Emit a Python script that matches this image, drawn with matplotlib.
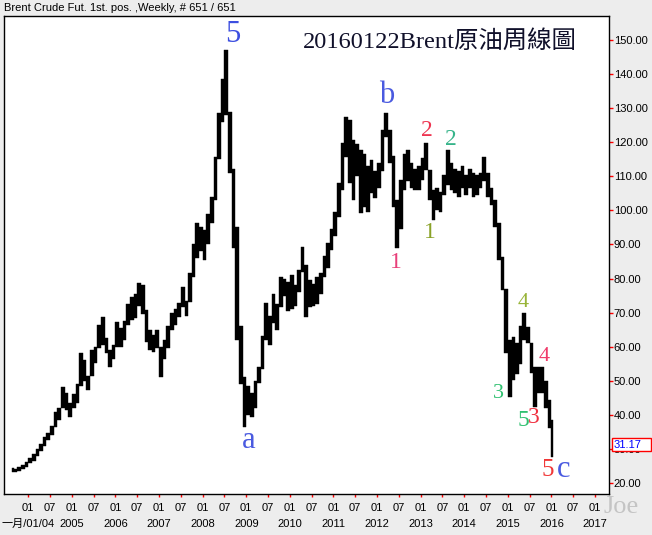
import numpy as np
import matplotlib
matplotlib.use("Agg")
import matplotlib.pyplot as plt
import matplotlib.transforms as mtransforms
from matplotlib.patches import Rectangle

# -------------------------------------------------------------------
# Data: monthly low / high
# first month = 2003-08, last month = 2016-01
# -------------------------------------------------------------------
start_year, start_month = 2003, 8

lows = [
    23.3, 23.2, 23.5, 24.2, 24.8,                                        # 2003
    25.8, 26.6, 28.0, 29.5, 31.0, 32.5, 34.0, 36.5, 38.5, 42.0, 41.5, 39.4,  # 2004
    42.0, 43.5, 48.5, 50.0, 47.3, 51.5, 55.2, 59.5, 60.5, 58.1, 54.0, 56.5,  # 2005
    60.0, 60.0, 62.0, 66.5, 67.8, 68.5, 72.0, 69.5, 61.5, 59.0, 58.5, 59.5,  # 2006
    51.1, 56.5, 59.5, 65.0, 66.5, 68.7, 71.6, 69.0, 73.0, 80.5, 86.0, 88.0,  # 2007
    85.4, 90.0, 96.3, 103.0, 115.0, 126.0, 128.0, 111.0, 89.0, 62.0, 49.0, 36.5,  # 2008
    40.0, 39.4, 42.0, 49.3, 53.5, 62.0, 60.5, 67.0, 65.0, 71.6, 75.0, 70.5,  # 2009
    71.0, 72.0, 76.0, 82.0, 68.7, 71.6, 72.0, 72.5, 75.5, 80.4, 83.0, 88.5,  # 2010
    92.5, 98.0, 106.0, 115.6, 108.0, 103.0, 110.0, 99.2, 101.0, 99.5, 105.0, 103.5,  # 2011
    106.5, 111.5, 121.5, 113.9, 101.0, 89.0, 94.5, 106.0, 108.5, 106.5, 106.0, 106.0,  # 2012
    109.0, 111.8, 103.0, 97.2, 100.0, 99.5, 104.5, 107.5, 106.0, 105.0, 104.0, 106.5,  # 2013
    104.5, 106.5, 104.0, 104.5, 106.5, 108.5, 104.0, 101.5, 95.0, 85.4, 76.6, 58.0,  # 2014
    45.2, 50.2, 52.0, 55.0, 62.0, 61.0, 52.3, 42.3, 46.5, 46.4, 42.0, 36.0,  # 2015
    27.6,                                                                # 2016
]
highs = [
    24.3, 24.2, 24.6, 25.3, 26.2,
    27.3, 28.4, 30.0, 31.5, 33.6, 34.8, 36.8, 40.8, 42.0, 48.3, 46.5, 43.5,
    46.0, 49.0, 58.1, 56.0, 51.5, 59.0, 59.9, 66.5, 68.7, 62.5, 59.0, 60.5,
    67.2, 65.5, 67.5, 72.5, 74.5, 75.5, 78.7, 78.0, 70.8, 64.9, 63.5, 65.0,
    60.0, 62.0, 66.0, 70.0, 71.0, 72.8, 77.5, 73.5, 81.6, 90.0, 96.3, 95.0,
    94.2, 99.0, 104.0, 115.7, 128.6, 138.5, 147.0, 129.0, 112.0, 95.0, 66.0, 51.0,
    48.5, 46.5, 50.0, 54.0, 63.0, 72.8, 69.0, 75.5, 72.5, 80.4, 80.0, 79.0,
    81.0, 78.0, 82.5, 89.3, 84.0, 79.5, 78.5, 80.5, 81.5, 86.5, 90.4, 94.5,
    99.5, 108.0, 119.8, 127.4, 126.5, 120.6, 119.5, 117.7, 116.5, 113.0, 114.8, 111.5,
    114.0, 123.5, 128.6, 123.6, 116.0, 103.0, 108.9, 116.5, 117.7, 114.0, 112.0, 113.0,
    115.5, 119.8, 111.8, 106.0, 106.5, 105.5, 110.5, 117.7, 114.0, 112.0, 111.5, 113.0,
    110.5, 112.0, 111.0, 110.5, 111.0, 115.7, 111.0, 106.5, 103.0, 96.3, 86.3, 77.0,
    62.0, 62.8, 61.0, 66.0, 69.8, 65.8, 61.0, 54.0, 54.0, 54.1, 50.0, 44.5,
    38.5,
]
last_close = 31.17

yticks = list(range(20, 151, 10))
tick_years = list(range(2004, 2018))
first_year_label = "一月/01/04"

# Elliott-wave labels: (text, time, price, colour, size)
waves = [
    ("5", 2008.70, 151.5, "#3d4fe0", 22),
    ("a", 2009.06, 32.5, "#4a5ae0", 22),
    ("b", 2012.22, 133.6, "#4a5ae0", 22),
    ("1", 2012.43, 84.8, "#e8407a", 17),
    ("2", 2013.14, 123.3, "#ee3450", 17),
    ("1", 2013.21, 93.4, "#8aa228", 17),
    ("2", 2013.69, 120.9, "#36b48a", 17),
    ("3", 2014.79, 46.2, "#30c070", 16),
    ("4", 2015.34, 73.1, "#98b438", 16),
    ("4", 2015.83, 57.0, "#f03a6a", 16),
    ("5", 2015.36, 38.4, "#30c070", 17),
    ("3", 2015.59, 39.1, "#f03040", 17),
    ("5", 2015.92, 23.9, "#f03838", 18),
    ("c", 2016.28, 23.9, "#4a5ae0", 22),
]

# -------------------------------------------------------------------
# Time axis (decimal years, middle of each month)
# -------------------------------------------------------------------
n = len(lows)
months = np.arange(n) + (start_month - 1)
t = start_year + (months + 0.5) / 12.0

# -------------------------------------------------------------------
# Plot
# -------------------------------------------------------------------
plt.rcParams["font.family"] = ["Liberation Sans", "Noto Sans CJK TC", "DejaVu Sans"]

W, H = 652, 535
fig = plt.figure(figsize=(W / 100, H / 100), dpi=100, facecolor="#ededed")
ax = fig.add_axes([4 / W, 41 / H, 605 / W, 478 / H])
ax.set_facecolor("white")

# price band: each month spans its low..high range
ax.fill_between(t, lows, highs, step="mid", color="black", linewidth=0.3,
                edgecolor="black")

ax.set_xlim(2003.443, 2017.319)
ax.set_ylim(16.77, 157.04)

# y axis on the right
ax.yaxis.tick_right()
ax.set_yticks(yticks)
ax.set_yticklabels([f"{v:.2f}" for v in yticks])
ax.tick_params(axis="y", which="both", direction="out", length=2.6, width=1,
               color="red", labelcolor="black", labelsize=8, pad=0.8)

# x axis: 01 (major) / 07 (minor) ticks, years underneath
july = [y + 181 / 365 for y in tick_years if y + 0.5 < 2017.3]
ax.set_xticks(tick_years)
ax.set_xticklabels(["01"] * len(tick_years))
ax.set_xticks(july, minor=True)
ax.set_xticklabels(["07"] * len(july), minor=True)
ax.tick_params(axis="x", which="both", direction="out", length=2.5, width=1,
               color="red", labelcolor="black", labelsize=8, pad=4)

xtrans = mtransforms.blended_transform_factory(ax.transData, ax.transAxes)
for y in tick_years:
    lab = first_year_label if y == tick_years[0] else str(y)
    ax.text(y, -30 / 478, lab, transform=xtrans, fontsize=8, ha="center",
            va="center", clip_on=False)

for s in ax.spines.values():
    s.set_color("black")
    s.set_linewidth(1.0)

# wave labels
for txt, x, y, c, fs in waves:
    ax.text(x, y, txt, color=c, fontsize=fs, ha="center", va="center",
            family=["Liberation Serif", "DejaVu Serif"])

# chart title inside the plot
ax.text(0.494, 0.947, "20160122Brent原油周線圖", transform=ax.transAxes,
        fontsize=17.6, color="#10102a", ha="left", va="center",
        family=["Liberation Serif", "Noto Sans CJK TC"])

# header text
fig.text(4 / W, 1 - 8 / H, "Brent Crude Fut. 1st. pos. ,Weekly, # 651 / 651",
         fontsize=8, ha="left", va="center", color="black")

# last price box
y_box = ax.transData.transform((0, last_close))[1]
fig.patches.append(Rectangle((612 / W, (y_box - 6.5) / H), 39 / W, 13 / H,
                             transform=fig.transFigure, facecolor="white",
                             edgecolor="red", linewidth=1.0, zorder=5))
fig.text(614 / W, y_box / H, f"{last_close:.2f}", color="blue", fontsize=8,
         ha="left", va="center", zorder=6)

# watermark
fig.text(603 / W, 1 - 507 / H, "Joe", fontsize=19, color="#c4c4c4",
         ha="left", va="center", family=["Liberation Serif"])

plt.savefig("out.png", dpi=100, facecolor=fig.get_facecolor())
